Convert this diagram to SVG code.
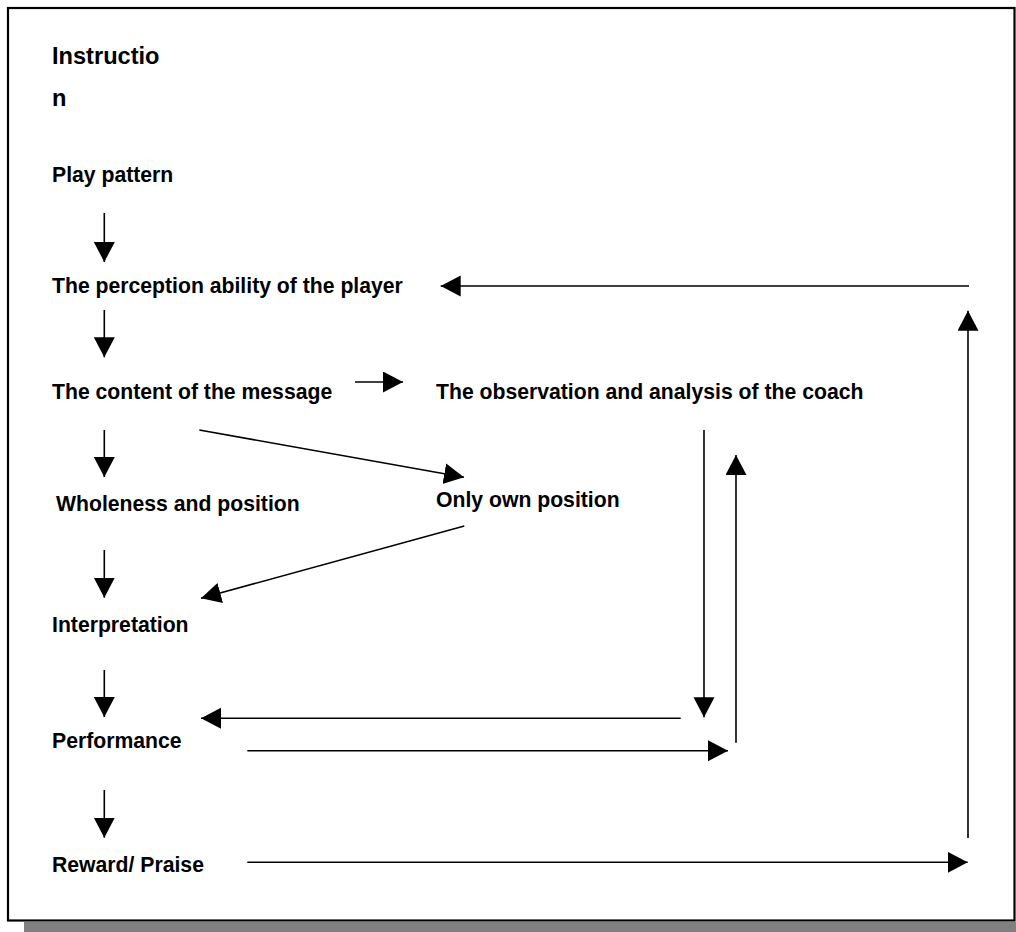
<svg xmlns="http://www.w3.org/2000/svg" width="1016" height="932" viewBox="0 0 1016 932">
<style>
text{font-family:"Liberation Sans",Arial,sans-serif;font-weight:bold;fill:#000;font-size:21.2px}
.big{font-size:23.6px}
.c{stroke:#000;stroke-width:1.6;fill:none;marker-end:url(#ah)}
.l{stroke:#000;stroke-width:1.6;fill:none}
</style>
<defs>
<marker id="ah" markerUnits="userSpaceOnUse" markerWidth="22" markerHeight="22" refX="20" refY="10.5" orient="auto" viewBox="0 0 22 22">
<path d="M0,0 L20,10.5 L0,21 z" fill="#000"/>
</marker>
</defs>
<rect x="0" y="0" width="1016" height="932" fill="#fff"/>
<rect x="24" y="922" width="992" height="10" fill="#808080"/>
<rect x="8" y="8" width="1006.5" height="912.5" fill="#fff" stroke="#000" stroke-width="2.2"/>
<g id="instruction"><text class="big" x="52" y="64">Instructio</text><text class="big" x="52" y="106">n</text></g>
<g id="play-pattern"><text x="52" y="182">Play pattern</text></g>
<g id="perception"><text x="52" y="293">The perception ability of the player</text></g>
<g id="content"><text x="52" y="399">The content of the message</text></g>
<g id="observation"><text x="436" y="399">The observation and analysis of the coach</text></g>
<g id="wholeness"><text x="56" y="511">Wholeness and position</text></g>
<g id="own-position"><text x="436" y="507">Only own position</text></g>
<g id="interpretation"><text x="52" y="632">Interpretation</text></g>
<g id="performance"><text x="52" y="748">Performance</text></g>
<g id="reward"><text x="52" y="872">Reward/ Praise</text></g>
<g id="connectors">
<line class="c" x1="104.3" y1="213" x2="104.3" y2="262"/>
<line class="c" x1="104.3" y1="310" x2="104.3" y2="357.3"/>
<line class="c" x1="355" y1="382" x2="403" y2="382"/>
<line class="c" x1="104.3" y1="430" x2="104.3" y2="477"/>
<line class="c" x1="199.3" y1="430" x2="464" y2="477.3"/>
<line class="c" x1="464.3" y1="526" x2="201" y2="598.3"/>
<line class="c" x1="104.3" y1="550" x2="104.3" y2="597.7"/>
<line class="c" x1="104.3" y1="670" x2="104.3" y2="717"/>
<line class="c" x1="104.3" y1="790" x2="104.3" y2="837.7"/>
<line class="c" x1="680.7" y1="718.3" x2="201" y2="718.3"/>
<line class="c" x1="247.3" y1="750.7" x2="728" y2="750.7"/>
<line class="c" x1="247.3" y1="862.3" x2="967.7" y2="862.3"/>
<line class="c" x1="704" y1="430" x2="704" y2="717.3"/>
<line class="c" x1="736" y1="742.7" x2="736" y2="455"/>
<line class="c" x1="968" y1="838" x2="968" y2="310.7"/>
<line class="c" x1="969" y1="286" x2="440.7" y2="286"/>
</g>
</svg>
